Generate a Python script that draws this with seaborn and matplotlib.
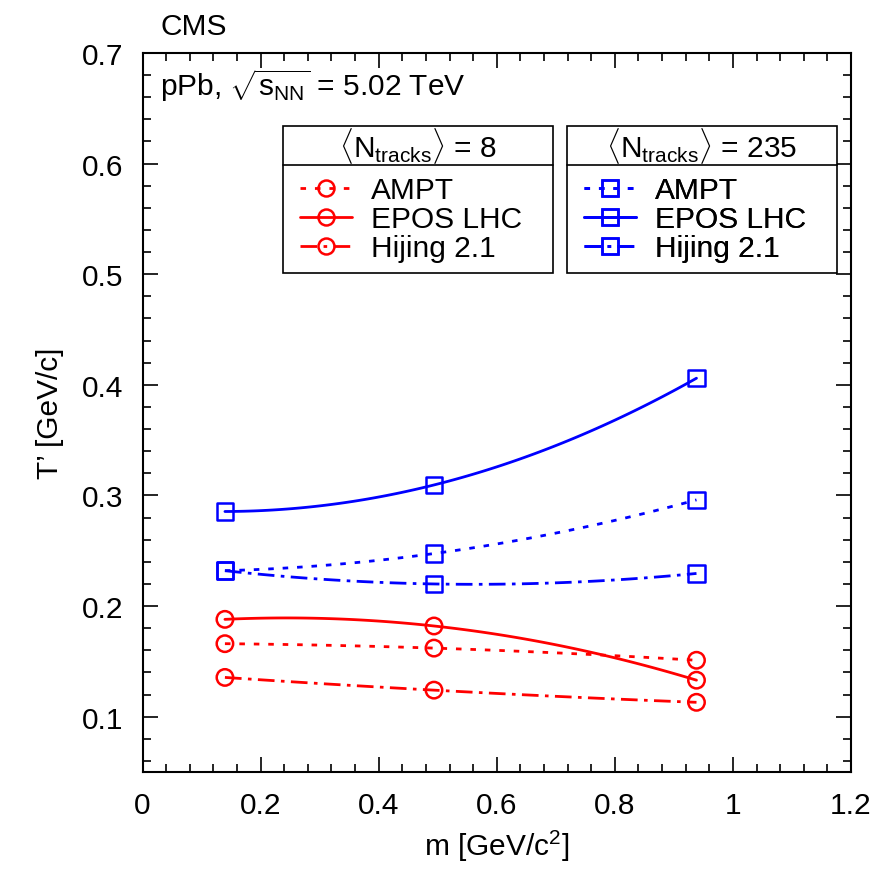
import matplotlib
matplotlib.use("Agg")
import matplotlib.pyplot as plt
import seaborn as sns
import numpy as np
from matplotlib.lines import Line2D
from matplotlib.patches import Rectangle
from matplotlib.ticker import MultipleLocator, FormatStrFormatter

# particle masses (pion, kaon, proton)
mass = [0.1396, 0.4937, 0.9383]

# <N_tracks> = 8
low_ampt = [0.166, 0.162, 0.151]
low_epos = [0.188, 0.182, 0.133]
low_hijing = [0.1355, 0.124, 0.113]

# <N_tracks> = 235
high_ampt = [0.232, 0.2475, 0.296]
high_epos = [0.2855, 0.3095, 0.406]
high_hijing = [0.232, 0.220, 0.2295]

models = ["AMPT", "EPOS LHC", "Hijing 2.1"]
group_titles = [r"$\langle\mathrm{N}_{\mathrm{tracks}}\rangle$ = 8",
                r"$\langle\mathrm{N}_{\mathrm{tracks}}\rangle$ = 235"]

sns.set_theme(style="ticks")
plt.rcParams["font.family"] = ["Liberation Sans", "DejaVu Sans"]
plt.rcParams["mathtext.fontset"] = "custom"
plt.rcParams["mathtext.rm"] = "Liberation Sans"
plt.rcParams["mathtext.it"] = "Liberation Sans:italic"
plt.rcParams["mathtext.bf"] = "Liberation Sans:bold"
plt.rcParams["text.color"] = "black"
plt.rcParams["axes.labelcolor"] = "black"

FS = 21.5
W, H = 890, 870
LW = 2.0
line_styles = {"AMPT": (0, (2, 3.2)), "EPOS LHC": "-", "Hijing 2.1": (0, (6, 2.3, 1.3, 2.3))}

fig = plt.figure(figsize=(W / 100, H / 100), dpi=100)
ax = fig.add_axes([142.5 / W, 1 - 773 / H, (851 - 142.5) / W, (773 - 54) / H])

groups = [
    ("red", "o", [low_ampt, low_epos, low_hijing]),
    ("blue", "s", [high_ampt, high_epos, high_hijing]),
]

for color, marker, series in groups:
    for name, vals in zip(models, series):
        sns.regplot(
            x=np.array(mass), y=np.array(vals),
            order=2, ci=None, ax=ax, color=color, marker=marker,
            scatter_kws={"facecolors": "none", "s": 140, "linewidths": 1.8,
                         "alpha": 1, "zorder": 4},
            line_kws={"linestyle": line_styles[name], "linewidth": LW, "zorder": 3},
        )

ax.set_xlim(0, 1.2)
ax.set_ylim(0.05, 0.7)
ax.xaxis.set_major_locator(MultipleLocator(0.2))
ax.xaxis.set_minor_locator(MultipleLocator(0.04))
ax.yaxis.set_major_locator(MultipleLocator(0.1))
ax.yaxis.set_minor_locator(MultipleLocator(0.02))
ax.xaxis.set_major_formatter(FormatStrFormatter("%g"))
ax.yaxis.set_major_formatter(FormatStrFormatter("%g"))
ax.tick_params(which="both", direction="in", top=True, right=True,
               width=1.2, colors="black", labelsize=FS)
ax.tick_params(which="major", length=11, pad=14)
ax.tick_params(which="minor", length=5.5)
for sp in ax.spines.values():
    sp.set_linewidth(1.5)
    sp.set_color("black")

ax.set_xlabel("m [GeV/c$^{2}$]", fontsize=FS, labelpad=6)
ax.set_ylabel("T’ [GeV/c]", fontsize=FS, labelpad=13)

fig.text(161 / W, 1 - 27 / H, "CMS", fontsize=FS, ha="left", va="center")
ax.text(160 / W, 1 - 86 / H, r"pPb, $\sqrt{\mathrm{s}_{\mathrm{NN}}}$ = 5.02 TeV",
        fontsize=FS, ha="left", va="center", transform=fig.transFigure)

# legend boxes with header rows
boxes = [(283, 553), (567, 837)]
top, sep, bottom = 127, 166, 274
for (x0, x1), title, (color, marker, series) in zip(boxes, group_titles, groups):
    ax.add_patch(Rectangle((x0 / W, 1 - bottom / H), (x1 - x0) / W, (bottom - top) / H,
                           transform=fig.transFigure, facecolor="white", clip_on=False,
                           edgecolor="black", linewidth=1.2, zorder=5))
    ax.add_line(Line2D([x0 / W, x1 / W], [1 - sep / H, 1 - sep / H], clip_on=False,
                       transform=fig.transFigure, color="black", linewidth=1.2, zorder=6))
    ax.text((x0 + x1) / 2 / W, 1 - (top + sep) / 2 / H, title, fontsize=FS,
            ha="center", va="center", zorder=7, transform=fig.transFigure)
    handles = [Line2D([], [], color=color, linestyle=line_styles[m], linewidth=LW,
                      marker=marker, markersize=11.5, markerfacecolor="none",
                      markeredgewidth=1.8) for m in models]
    leg = ax.legend(handles, models, loc="upper left",
                    bbox_to_anchor=((x0 + 17) / W, 1 - (sep + 11) / H),
                    bbox_transform=fig.transFigure, frameon=False, fontsize=FS,
                    handlelength=1.75, handletextpad=0.62, borderpad=0,
                    borderaxespad=0, labelspacing=0.04)
    leg.set_zorder(8)
    ax.add_artist(leg)

fig.savefig("out.png", dpi=100)
